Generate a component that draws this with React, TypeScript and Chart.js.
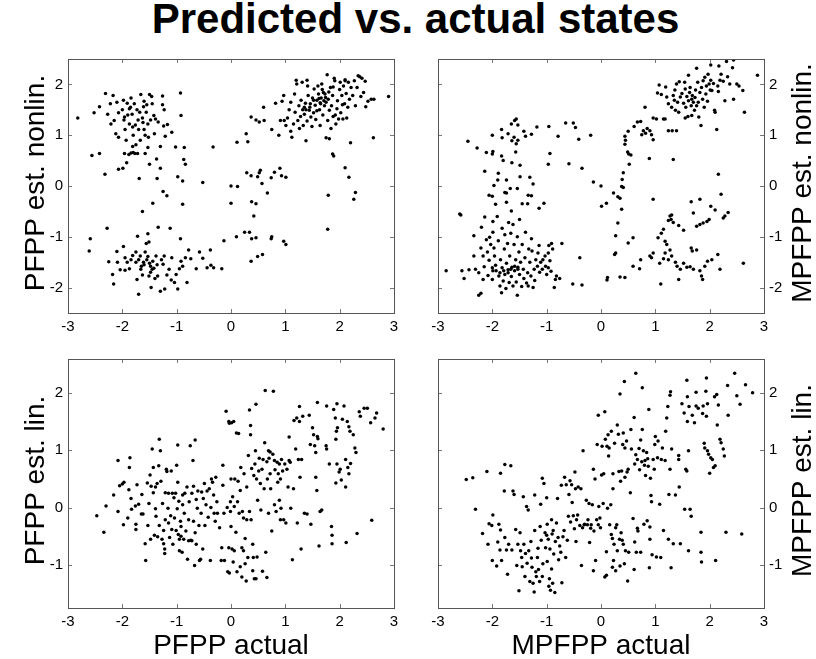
import React, { useEffect, useRef } from 'react';
import { Chart, registerables } from 'chart.js';

Chart.register(...registerables);

const FONT = '"Liberation Sans", Arial, Helvetica, sans-serif';

const chartTitle = 'Predicted vs. actual states';
const xTicks = [-3, -2, -1, 0, 1, 2, 3];
const yTicksTop = [-2, -1, 0, 1, 2];
const yTicksBottom = [-1, 0, 1, 2];
const xRange = [-3, 3];
const yRangeTop = [-2.5, 2.5];
const yRangeBottom = [-1.75, 2.59];

const labelTL = 'PFPP est. nonlin.';
const labelTR = 'MPFPP est. nonlin.';
const labelBL = 'PFPP est. lin.';
const labelBR = 'MPFPP est. lin.';
const xLabelBL = 'PFPP actual';
const xLabelBR = 'MPFPP actual';

// PFPP actual vs PFPP estimated (nonlinear)
const pfppNonlin: [number, number][] = [
  [-2.82,1.34],[-2.52,1.44],[-2.42,1.56],[-2.31,1.82],[-2.56,0.60],[-2.42,0.64],[-2.32,0.23],[-2.27,1.41],[-2.22,1.62],[-2.17,1.78],
  [-2.21,1.22],[-2.15,1.29],[-2.10,1.65],[-2.12,1.03],[-2.07,1.44],[-2.07,0.96],[-2.07,0.33],[-1.99,0.35],[-1.98,1.69],[-1.96,1.36],
  [-1.95,1.11],[-1.91,1.63],[-1.93,0.90],[-1.96,0.64],[-1.92,0.46],[-1.87,1.52],[-1.87,1.22],[-1.82,1.41],[-1.81,1.16],[-1.84,1.73],
  [-1.78,1.62],[-1.80,1.00],[-1.81,0.78],[-1.84,0.65],[-1.77,0.64],[-1.72,0.64],[-1.75,0.81],[-1.71,1.30],[-1.73,1.50],[-1.70,1.11],
  [-1.67,0.90],[-1.69,0.15],[-1.66,1.80],[-1.63,1.34],[-1.61,1.56],[-1.60,1.67],[-1.60,1.11],[-1.56,1.45],[-1.58,0.64],[-1.53,1.22],
  [-1.50,1.80],[-1.52,0.96],[-1.50,0.43],[-1.53,0.76],[-1.46,1.76],[-1.45,1.62],[-1.42,1.39],[-1.41,1.03],[-1.39,1.32],[-1.37,0.53],
  [-1.36,0.15],[-1.34,1.26],[-1.30,0.78],[-1.30,0.35],[-1.26,1.77],[-1.26,1.60],[-1.23,1.50],[-1.24,1.18],[-1.21,0.98],[-1.25,-0.11],
  [-1.18,-0.19],[-1.17,1.21],[-1.09,1.06],[-1.02,0.77],[-0.93,1.83],[-0.92,1.39],[-0.98,0.18],[-0.89,0.10],[-0.89,-0.36],[-0.86,0.76],
  [-0.87,0.52],[-0.84,0.43],[-1.44,-0.34],[-1.63,-0.50],[-0.52,0.07],[-0.33,0.77],[-1.97,1.30],[-1.90,1.40],[-1.76,1.20],[-1.62,1.25],
  [-1.68,1.45],[-1.85,1.55],[-1.55,1.60],[-2.00,1.50],[-1.48,1.30],[-1.58,1.00],[-1.88,0.62],[-1.80,0.66],
  [-2.59,-1.04],[-2.61,-1.28],[-2.28,-0.83],[-2.25,-1.49],[-2.18,-1.74],[-2.16,-1.93],[-2.10,-1.29],[-2.09,-1.50],[-2.04,-1.65],[-1.98,-1.19],
  [-1.95,-1.41],[-1.95,-1.66],[-1.91,-1.50],[-1.87,-1.63],[-1.84,-1.45],[-1.81,-1.37],[-1.75,-1.30],[-1.75,-1.50],[-1.73,-1.84],[-1.72,-0.99],
  [-1.70,-2.13],[-1.67,-1.38],[-1.66,-1.64],[-1.63,-1.75],[-1.61,-1.50],[-1.58,-1.30],[-1.56,-1.13],[-1.53,-0.94],[-1.53,-1.39],[-1.51,-1.10],
  [-1.51,-1.77],[-1.48,-1.58],[-1.47,-2.00],[-1.45,-1.64],[-1.44,-1.48],[-1.42,-1.62],[-1.40,-1.82],[-1.38,-1.38],[-1.35,-1.77],[-1.34,-0.81],
  [-1.30,-2.07],[-1.28,-1.45],[-1.25,-1.54],[-1.23,-1.38],[-1.22,-2.03],[-1.18,-1.75],[-1.14,-1.64],[-1.12,-0.83],[-1.10,-1.85],[-1.09,-1.41],
  [-1.04,-1.90],[-1.01,-1.74],[-0.98,-2.03],[-0.95,-1.63],[-0.93,-1.04],[-0.92,-1.48],[-0.89,-1.58],[-0.84,-1.41],[-0.81,-1.90],[-0.78,-1.26],
  [-0.74,-1.43],[-0.64,-1.63],[-0.58,-1.30],[-0.52,-1.42],[-0.44,-1.61],[-0.38,-1.26],[-0.37,-1.56],[-0.32,-1.61],[-0.17,-1.63],[-1.60,-1.55],
  [-1.55,-1.45],[-1.70,-1.45],[-1.48,-1.70],[-1.36,-1.55],[-1.65,-1.58],[-1.50,-1.52],
  [-0.13,-1.08],[0.00,0.00],[0.00,-0.34],[0.12,-0.01],[0.10,-1.00],[0.11,0.86],[0.25,-0.91],[0.34,-0.91],[0.28,1.03],[0.31,0.87],
  [0.29,0.26],[0.37,0.20],[0.38,-0.31],[0.46,-0.35],[0.42,-0.59],[0.38,-1.04],[0.46,-1.02],[0.37,-1.48],[0.49,-1.39],[0.58,-1.35],
  [0.49,0.18],[0.52,0.26],[0.54,0.31],[0.57,0.05],[0.67,-0.14],[0.74,-1.04],[0.75,-1.00],[0.74,0.16],[0.80,0.27],[0.90,0.35],
  [0.93,0.20],[1.01,0.17],[0.97,-1.09],[1.01,-1.15],[0.37,1.36],[0.46,1.30],[0.52,1.26],[0.61,1.29],[0.60,1.55],[0.75,1.11],
  [0.82,1.63],[0.88,1.00],[0.91,1.29],
  [0.94,1.67],[0.97,1.78],[0.98,1.29],[1.01,1.19],[1.04,1.34],[1.07,1.50],[1.10,1.65],[1.10,1.08],[1.12,0.96],[1.15,1.22],
  [1.17,1.81],[1.18,1.45],[1.20,2.08],[1.21,2.01],[1.23,1.29],[1.25,1.58],[1.26,1.13],[1.28,1.37],[1.29,1.69],[1.31,2.04],
  [1.32,1.50],[1.33,1.19],[1.35,1.41],[1.37,1.63],[1.38,0.89],[1.40,2.08],[1.40,1.28],[1.41,1.97],[1.42,1.78],[1.44,1.49],
  [1.46,1.62],[1.47,1.36],[1.49,1.17],[1.50,1.73],[1.52,1.44],[1.53,1.91],[1.55,1.59],[1.56,1.31],[1.58,1.69],[1.60,1.97],
  [1.61,1.81],[1.63,1.50],[1.64,1.19],[1.64,1.64],[1.66,1.73],[1.67,2.01],[1.69,1.40],[1.70,1.84],[1.72,1.58],[1.73,1.81],
  [1.75,1.65],[1.75,0.95],[1.77,2.19],[1.78,1.29],[1.79,1.71],[1.81,1.49],[1.83,1.94],[1.84,1.13],[1.85,1.58],[1.87,1.78],
  [1.88,1.37],[1.87,0.63],[1.89,0.59],[1.90,2.12],[1.91,2.07],[1.93,1.22],[1.95,1.52],[1.96,1.68],[1.98,1.32],[2.00,1.90],
  [2.01,2.04],[2.02,1.44],[2.04,1.78],[2.06,1.32],[2.07,1.97],[2.09,1.62],[2.10,2.07],[2.12,1.82],[2.13,1.34],[2.15,1.55],
  [2.16,2.04],[2.18,1.71],[2.20,0.85],[2.10,0.36],[2.17,0.17],[2.21,1.94],[2.24,1.78],[2.27,2.07],[2.29,1.58],[2.32,1.94],
  [2.34,2.17],[2.37,2.15],[2.39,1.76],[2.41,2.12],[2.44,1.84],[2.47,2.06],[2.48,1.56],[2.52,1.67],[2.58,1.71],[2.62,0.95],
  [2.63,1.71],[2.90,1.76],[1.81,0.93],[1.79,-0.18],[1.78,-0.85],[2.26,-0.26],[2.29,-0.13],[2.10,2.09],[1.45,1.55],[1.62,1.72],
  [1.68,1.90],[1.74,1.74],[1.80,1.85],[1.58,1.48],[1.35,1.55],[1.38,1.50],[1.52,1.69],[1.92,1.40],[1.88,1.95],[2.05,1.60],
  [1.65,1.62],[1.71,1.68]
];

// MPFPP actual vs MPFPP estimated (nonlinear)
const mpfppNonlin: [number, number][] = [
  [2.88,2.18],[2.44,2.48],[2.31,2.45],[2.42,2.33],[2.17,2.36],[2.02,2.38],[1.76,2.32],[1.61,2.18],[1.44,2.05],[1.07,1.99],
  [1.04,1.83],[1.11,1.80],[1.19,1.95],[1.21,1.75],[1.24,1.62],[1.30,1.55],[1.33,1.78],[1.35,1.69],[1.36,1.89],[1.39,2.01],
  [1.41,1.65],[1.43,1.45],[1.46,1.75],[1.49,1.82],[1.52,1.63],[1.54,2.04],[1.55,1.91],[1.56,1.55],[1.58,1.76],[1.60,1.37],
  [1.61,1.68],[1.63,1.84],[1.64,1.94],[1.66,1.58],[1.67,1.71],[1.68,1.78],[1.70,1.65],[1.72,1.49],[1.73,1.74],[1.74,1.89],
  [1.76,1.58],[1.78,2.04],[1.79,1.65],[1.80,1.36],[1.82,1.84],[1.84,1.19],[1.85,1.94],[1.87,1.71],[1.88,2.07],[1.90,1.55],
  [1.91,2.14],[1.93,1.81],[1.94,1.97],[1.96,1.67],[1.97,2.20],[1.99,2.01],[2.01,1.89],[2.02,2.08],[2.04,1.88],[2.07,2.02],
  [2.09,1.49],[2.10,1.45],[2.13,1.11],[2.15,1.97],[2.16,1.86],[2.19,2.08],[2.21,2.20],[2.25,2.06],[2.28,1.68],[2.33,2.15],
  [2.37,2.01],[2.44,1.71],[2.50,2.01],[2.54,1.97],[2.61,1.88],[2.64,1.45],[0.96,1.34],[1.02,1.32],[1.15,1.32],[1.18,1.32],
  [1.24,1.09],[1.31,1.09],[1.39,1.09],[1.33,0.52],[1.55,1.34],[1.67,1.39],[1.37,1.49],
  [0.81,1.55],[0.73,1.27],[0.67,1.26],[0.61,1.17],[0.50,1.08],[0.44,0.98],[0.45,0.90],[0.44,0.82],[0.49,0.67],[0.51,0.63],
  [0.55,0.61],[0.52,0.43],[0.41,0.26],[0.39,0.13],[0.38,-0.01],[0.41,-0.03],[0.31,-0.21],[0.35,-0.24],[0.38,-0.46],[0.31,-0.73],
  [0.27,-0.98],[0.27,-1.32],[0.25,-1.35],[0.50,-1.12],[0.59,-1.02],[0.59,-1.58],[0.35,-1.79],[0.44,-1.80],[0.12,-1.80],[0.11,-1.85],
  [0.00,0.00],[-0.14,0.08],[0.01,-0.40],[0.10,-0.34],[0.23,-0.14],[0.82,1.04],[0.85,1.13],[0.90,1.09],[0.93,1.01],[0.96,0.91],
  [0.89,0.54],[0.75,1.01],[0.78,1.09],[0.96,-0.26],
  [2.16,0.23],[2.21,-0.16],[2.02,-0.40],[2.10,-0.47],[2.34,-0.52],[2.28,-0.59],[2.25,-0.63],[1.99,-0.66],[1.95,-0.70],[1.88,-0.73],
  [1.82,-0.76],[1.76,-0.79],[1.66,-0.31],[1.82,-0.26],[1.70,-0.53],[1.52,-0.87],[1.43,-0.78],[1.33,-0.72],[1.27,-0.59],[1.29,-0.66],
  [1.30,-0.57],[1.15,-0.85],[1.11,-0.93],[1.18,-1.09],[1.21,-1.15],[1.27,-1.26],[1.30,-1.38],[1.24,-1.45],[1.37,-1.50],[1.40,-1.58],
  [1.46,-1.64],[1.52,-1.52],[1.58,-1.60],[1.64,-1.59],[1.66,-1.22],[1.68,-1.28],[1.70,-1.64],[1.76,-1.26],[1.82,-1.67],[1.85,-1.77],
  [1.87,-1.84],[1.91,-1.58],[1.96,-1.48],[2.04,-1.45],[2.15,-1.35],[2.19,-1.64],[2.62,-1.52],[1.43,-1.84],[1.10,-1.93],[1.05,-1.02],
  [0.96,-1.32],[0.93,-1.41],[0.90,-1.38],[0.73,-1.45],[0.71,-1.63],[1.08,-1.52],[1.15,-1.43],[1.18,-1.32],[1.24,-0.68],
  [-2.45,0.88],[-2.28,0.75],[-2.11,0.66],[-1.99,0.68],[-2.00,1.00],[-2.14,0.29],[-1.83,0.59],[-1.80,0.50],[-1.83,1.11],[-1.82,0.95],
  [-1.89,0.25],[-1.90,0.12],[-1.74,0.12],[-1.97,0.01],[-2.06,-0.18],[-2.00,-0.20],[-1.94,-0.36],[-1.77,-0.13],[-1.74,-0.14],[-1.74,-0.32],
  [-1.65,-0.49],[-1.67,-0.05],[-1.71,1.03],[-1.65,1.22],[-1.64,0.89],[-1.60,0.96],[-1.59,1.29],[-1.56,1.32],[-1.53,1.20],[-1.56,0.83],
  [-1.57,0.67],[-1.53,0.90],[-1.64,0.46],[-1.49,0.41],[-1.54,-0.05],[-1.49,0.18],[-1.42,1.08],[-1.39,0.98],[-1.28,1.02],[-1.31,0.17],
  [-1.25,0.04],[-1.34,-0.18],[-1.28,-0.19],[-1.45,-0.35],[-1.35,-0.35],[-1.18,1.16],[-1.05,-0.34],[-1.14,-0.44],[-0.96,1.17],[-0.94,0.64],
  [-0.97,0.43],[-0.79,0.98],[-0.65,1.24],[-0.51,1.24],[-0.47,1.15],[-0.59,0.44],[-0.41,0.92],[-0.35,0.35],[-0.19,1.00],[-2.00,0.63],
  [-2.85,-1.67],[-2.60,-0.55],[-2.58,-0.57],[-2.56,-1.67],[-2.52,-1.82],[-2.43,-1.65],[-2.34,-0.98],[-2.34,-1.38],[-2.31,-1.64],[-2.25,-1.71],
  [-2.25,-2.15],[-2.21,-2.11],[-2.21,-1.22],[-2.20,-0.81],[-2.17,-1.38],[-2.15,-1.59],[-2.17,-1.84],[-2.14,-0.61],[-2.11,-1.06],[-2.09,-1.30],
  [-2.08,-1.76],[-2.06,-1.46],[-2.05,-1.01],[-2.03,-1.15],[-2.00,-1.61],[-2.00,-1.84],[-1.99,-0.91],[-1.99,-0.70],[-1.97,-1.22],[-1.96,-1.38],
  [-1.94,-1.56],[-1.93,-1.67],[-1.91,-0.60],[-1.89,-1.08],[-1.88,-1.77],[-1.86,-1.97],[-1.85,-1.45],[-1.83,-2.10],[-1.82,-0.83],[-1.82,-1.61],
  [-1.80,-1.87],[-1.78,-1.24],[-1.77,-0.96],[-1.77,-1.74],[-1.75,-2.02],[-1.74,-1.52],[-1.72,-1.13],[-1.71,-1.65],[-1.70,-0.72],[-1.69,-1.90],
  [-1.68,-1.38],[-1.66,-0.93],[-1.65,-1.78],[-1.64,-1.60],[-1.62,-0.76],[-1.62,-1.97],[-1.60,-1.15],[-1.59,-1.67],[-1.57,-1.45],[-1.56,-1.89],
  [-1.54,-2.15],[-1.54,-1.00],[-1.53,-1.60],[-1.51,-1.30],[-1.50,-1.74],[-1.50,-0.66],[-1.48,-1.50],[-1.46,-1.98],[-1.45,-1.15],[-1.43,-1.64],
  [-1.42,-1.82],[-1.40,-1.41],[-1.39,-0.91],[-1.37,-1.91],[-1.35,-1.71],[-1.34,-1.97],[-1.33,-1.24],[-1.31,-1.50],[-1.29,-1.77],[-1.28,-1.04],
  [-1.27,-1.28],[-1.25,-2.00],[-1.23,-1.64],[-1.22,-1.86],[-1.20,-1.45],[-1.17,-1.58],[-1.16,-1.32],[-1.14,-1.17],[-1.13,-1.70],[-1.11,-1.50],
  [-1.08,-1.64],[-1.07,-1.45],[-1.03,-1.38],[-1.02,-1.58],[-1.00,-1.74],[-0.97,-1.32],[-0.96,-1.17],[-0.94,-1.47],[-0.92,-1.68],[-0.91,-1.13],
  [-0.89,-1.24],[-0.86,-2.00],[-0.84,-1.84],[-0.82,-1.77],[-0.76,-1.82],[-0.72,-1.13],[-0.39,-1.41],[-0.52,-1.93],[-0.35,-1.95],[-0.97,-1.61],
  [-1.99,-1.67],[-1.79,-1.67],[-1.66,-1.64],[-1.53,-1.64],[-1.59,-1.58],[-1.71,-1.71],[-1.86,-1.71]
];

// PFPP actual vs PFPP estimated (linear)
const pfppLin: [number, number][] = [
  [-2.47,-0.14],[-2.34,-0.43],[-2.30,0.03],[-2.16,0.22],[-2.08,0.82],[-2.08,-0.07],[-2.05,0.38],[-2.00,0.41],[-1.97,0.44],[-1.98,-0.30],
  [-1.90,-0.18],[-1.88,0.31],[-1.86,0.87],[-1.87,0.70],[-1.84,0.16],[-1.83,-0.03],[-1.76,0.03],[-1.75,-0.29],[-1.75,-0.38],[-1.73,0.40],
  [-1.70,0.06],[-1.65,-0.11],[-1.62,-0.11],[-1.64,0.23],[-1.58,-0.63],[-1.57,-0.92],[-1.53,-0.31],[-1.54,0.43],[-1.51,0.07],[-1.49,0.57],
  [-1.48,-0.55],[-1.47,0.37],[-1.45,1.02],[-1.43,0.70],[-1.43,0.26],[-1.41,-0.48],[-1.39,0.36],[-1.39,-0.02],[-1.38,-0.15],[-1.36,0.42],
  [-1.35,-0.51],[-1.33,0.73],[-1.32,1.19],[-1.32,-0.31],[-1.30,0.99],[-1.29,0.46],[-1.27,-0.55],[-1.26,0.07],[-1.24,-0.40],[-1.24,-0.63],
  [-1.22,-0.72],[-1.22,-0.80],[-1.21,0.26],[-1.21,-0.21],[-1.19,0.67],[-1.18,0.63],[-1.16,-0.01],[-1.15,0.25],[-1.15,-0.27],[-1.13,-0.52],
  [-1.11,-0.14],[-1.10,0.64],[-1.09,-0.38],[-1.08,0.25],[-1.07,-0.64],[-1.05,0.17],[-1.04,-0.18],[-1.02,0.25],[-1.01,-0.40],[-1.00,0.74],
  [-0.99,-0.02],[-0.98,1.09],[-0.98,0.44],[-0.97,-0.47],[-0.96,0.11],[-0.95,-0.55],[-0.95,-0.75],[-0.93,-0.24],[-0.92,-0.33],[-0.92,-0.50],
  [-0.90,-0.78],[-0.89,0.22],[-0.89,0.05],[-0.87,-0.55],[-0.86,-0.10],[-0.85,0.25],[-0.83,-0.41],[-0.81,0.36],[-0.80,-0.90],[-0.78,-0.58],
  [-0.78,-0.21],[-0.77,0.10],[-0.75,1.08],[-0.74,-0.57],[-0.72,0.25],[-0.72,-0.58],[-0.70,0.82],[-0.69,-0.24],[-0.69,0.37],[-0.67,-1.01],
  [-0.66,1.18],[-0.66,-0.44],[-0.64,-0.64],[-0.64,0.14],[-0.62,-0.01],[-0.61,0.29],[-0.59,-0.31],[-0.58,-0.92],[-0.56,-0.90],[-0.55,-0.10],
  [-0.54,0.27],[-0.52,-0.72],[-0.51,0.16],[-0.49,0.42],[-0.48,-0.31],[-0.46,0.05],[-0.44,0.29],[-0.42,-0.17],[-0.40,0.33],[-0.38,-0.92],
  [-0.37,0.00],[-0.36,0.50],[-0.34,0.44],[-0.32,0.22],[-0.31,-0.10],[-0.29,-0.24],[-0.28,0.53],[-0.26,0.10],[-0.25,-0.10],[-0.21,-0.35],
  [-0.18,-0.92],[-0.17,-0.70],[-0.15,0.74],[-0.15,0.39],[-0.13,-0.10],[-0.12,-0.92],[-0.09,1.68],[-0.07,0.00],[-0.06,-1.12],[-0.04,1.50],
  [-0.04,-0.70],[-0.03,1.47],[-0.03,-1.14],[-0.01,0.10],[-0.01,-0.07],[0.00,0.50],[0.00,-0.33],[0.01,1.48],[0.02,-0.72],[0.03,0.19],
  [0.04,-0.95],[0.05,1.50],[0.06,0.02],[0.06,-0.75],[0.07,0.50],[0.09,-0.43],[0.10,1.30],[0.11,-1.12],[0.12,0.10],[0.13,0.46],
  [0.14,1.29],[0.15,-0.10],[0.17,-1.03],[0.17,0.30],[0.18,0.70],[0.20,-0.70],[0.20,-1.21],[0.21,-0.07],[0.23,-0.75],[0.23,-0.18],
  [0.24,0.59],[0.26,-0.98],[0.26,-0.54],[0.28,-1.28],[0.29,-0.21],[0.29,0.36],[0.31,-0.87],[0.32,0.91],[0.34,1.70],[0.34,-0.07],
  [0.36,1.43],[0.36,1.27],[0.37,-0.21],[0.38,0.68],[0.40,-0.64],[0.40,-1.10],[0.41,-0.87],[0.42,0.56],[0.43,-1.24],[0.44,0.76],
  [0.45,0.99],[0.46,-1.24],[0.46,1.80],[0.47,0.50],[0.48,-0.86],[0.49,0.13],[0.51,0.64],[0.52,0.86],[0.54,0.42],[0.55,-0.04],
  [0.57,0.67],[0.58,-1.11],[0.59,0.84],[0.61,0.33],[0.62,1.13],[0.63,2.04],[0.64,-0.78],[0.66,0.80],[0.66,-1.22],[0.67,0.50],
  [0.69,0.99],[0.69,-0.10],[0.70,0.86],[0.72,0.97],[0.72,0.59],[0.73,0.33],[0.75,-0.41],[0.77,0.93],[0.78,2.03],[0.80,0.82],
  [0.80,0.05],[0.81,0.66],[0.83,-0.07],[0.85,0.79],[0.86,0.44],[0.87,0.59],[0.89,0.13],[0.89,0.76],[0.91,0.50],[0.91,-0.21],
  [0.92,-0.01],[0.93,0.84],[0.95,0.64],[0.97,-0.21],[0.99,0.76],[1.01,-0.27],[1.03,0.67],[1.05,0.36],[1.07,1.23],[1.07,0.82],
  [1.09,0.79],[1.10,-0.01],[1.13,-0.91],[1.16,1.52],[1.15,0.33],[1.19,1.02],[1.21,1.56],[1.22,-0.27],[1.24,0.84],[1.26,1.76],
  [1.26,1.50],[1.27,0.53],[1.29,-0.72],[1.30,0.84],[1.32,1.59],[1.35,-0.10],[1.40,-0.11],[1.44,1.61],[1.46,1.10],[1.47,-0.29],
  [1.50,1.39],[1.52,1.27],[1.54,1.08],[1.56,0.96],[1.56,0.53],[1.58,0.30],[1.59,1.83],[1.59,1.24],[1.60,1.20],[1.62,-0.67],
  [1.64,-0.07],[1.67,-0.04],[1.76,1.77],[1.75,1.08],[1.76,1.02],[1.81,0.76],[1.85,-0.33],[1.86,-0.48],[1.86,-0.63],[1.89,1.71],
  [1.92,1.56],[1.93,1.19],[1.94,1.33],[1.95,1.81],[1.96,1.39],[1.95,0.76],[1.93,0.43],[1.99,0.62],[2.01,0.67],[2.03,0.48],
  [2.05,1.54],[2.08,1.77],[2.11,0.84],[2.11,0.36],[2.12,-0.61],[2.14,1.50],[2.15,0.70],[2.17,1.41],[2.17,0.59],[2.19,1.33],
  [2.20,0.77],[2.25,1.27],[2.28,1.04],[2.30,0.96],[2.32,-0.45],[2.36,1.67],[2.38,1.59],[2.45,1.73],[2.51,1.73],[2.57,1.48],
  [2.59,-0.22],[2.65,1.56],[2.68,1.65],[2.80,1.37]
];

// MPFPP actual vs MPFPP estimated (linear)
const mpfppLin: [number, number][] = [
  [-2.48,0.49],[-2.36,0.52],[-2.31,-0.03],[-2.18,-0.45],[-2.10,0.63],[-2.08,-0.64],[-2.06,-0.28],[-2.01,-0.31],[-1.99,-0.13],[-2.00,-0.92],
  [-1.92,-1.02],[-1.90,-0.60],[-1.88,-0.29],[-1.86,-0.74],[-1.85,0.60],[-1.85,-0.39],[-1.83,-0.92],[-1.78,0.29],[-1.77,-0.52],[-1.77,0.75],
  [-1.74,-0.74],[-1.72,-1.16],[-1.70,-0.64],[-1.66,0.73],[-1.64,-0.74],[-1.62,0.29],[-1.60,0.23],[-1.57,-0.38],[-1.55,-1.01],[-1.53,-0.64],
  [-1.51,-1.45],[-1.49,-0.44],[-1.48,-0.75],[-1.46,-0.87],[-1.45,-1.03],[-1.43,0.19],[-1.42,-0.64],[-1.40,-1.20],[-1.39,-0.80],[-1.37,0.02],
  [-1.36,-0.97],[-1.34,-0.04],[-1.33,-0.75],[-1.31,-1.29],[-1.29,-0.59],[-1.28,-0.88],[-1.27,-1.04],[-1.25,-1.32],[-1.23,-1.47],[-1.22,0.22],
  [-1.22,-0.40],[-1.20,-1.12],[-1.19,-1.20],[-1.17,-0.87],[-1.16,-0.71],[-1.15,-1.08],[-1.13,-1.29],[-1.12,-0.33],[-1.11,0.06],[-1.10,-0.57],
  [-1.08,0.51],[-1.08,-1.20],[-1.07,-0.98],[-1.05,0.42],[-1.03,-0.44],[-1.02,-0.70],[-1.00,0.17],[-1.00,-0.48],[-0.99,-0.29],[-0.99,-0.94],
  [-0.97,-0.55],[-0.96,-1.37],[-0.95,-1.24],[-0.94,-0.72],[-0.93,-1.44],[-0.91,-0.21],[-0.91,-1.07],[-0.90,-0.46],[-0.89,-1.32],[-0.88,-0.40],
  [-0.87,-0.81],[-0.85,-1.48],[-0.84,-0.59],[-0.82,-0.27],[-0.80,0.16],[-0.79,-0.52],[-0.78,-0.91],[-0.76,-0.67],[-0.74,-0.78],[-0.73,0.39],
  [-0.72,-1.31],[-0.70,-0.51],[-0.68,-0.40],[-0.67,0.53],[-0.65,-0.87],[-0.64,0.40],[-0.62,-0.57],[-0.60,-0.15],[-0.59,0.23],[-0.57,0.47],
  [-0.56,-0.25],[-0.54,0.40],[-0.53,0.09],[-0.51,-0.14],[-0.49,-0.37],[-0.48,0.62],[-0.47,0.33],[-0.46,-0.59],[-0.45,-0.21],[-0.43,-0.13],
  [-0.42,0.36],[-0.39,-0.31],[-0.37,0.33],[-0.36,-1.01],[-0.34,-0.35],[-0.33,0.99],[-0.31,-0.30],[-0.30,-0.29],[-0.27,0.13],[-0.25,-0.30],
  [-0.24,-0.21],[-0.22,0.07],[-0.21,-0.61],[-0.19,-0.36],[-0.18,-0.30],[-0.16,0.05],[-0.14,0.67],[-0.14,-1.10],[-0.13,-0.41],[-0.11,0.50],
  [-0.10,-0.92],[-0.08,-0.21],[-0.07,1.10],[-0.05,-0.30],[-0.05,1.61],[-0.04,0.02],[-0.02,-0.18],[-0.01,-0.35],[0.01,0.57],[0.02,1.07],
  [0.04,0.07],[0.05,0.59],[0.07,-1.21],[0.07,1.67],[0.08,1.19],[0.10,-1.18],[0.10,-0.77],[0.11,1.07],[0.12,-0.01],[0.13,1.27],
  [0.14,0.90],[0.15,1.04],[0.16,-0.30],[0.18,0.05],[0.19,1.33],[0.19,-0.47],[0.21,-1.04],[0.21,-0.54],[0.22,0.33],[0.22,0.59],
  [0.23,-0.92],[0.24,-0.64],[0.25,1.12],[0.27,-0.35],[0.27,-1.10],[0.29,-0.30],[0.30,1.44],[0.30,-0.75],[0.32,1.28],[0.33,0.63],
  [0.34,-0.55],[0.35,-1.02],[0.35,1.98],[0.36,0.46],[0.37,-0.44],[0.38,0.64],[0.39,-0.57],[0.40,1.10],[0.41,-0.64],[0.41,1.30],
  [0.43,2.20],[0.43,-0.98],[0.44,0.53],[0.44,1.04],[0.45,-0.75],[0.47,1.16],[0.48,0.62],[0.49,-1.28],[0.50,0.67],[0.51,-0.78],
  [0.54,0.26],[0.55,1.36],[0.56,1.02],[0.59,-0.19],[0.61,1.57],[0.61,-1.08],[0.62,-0.60],[0.62,0.76],[0.64,2.34],[0.64,0.92],
  [0.65,-0.78],[0.67,0.84],[0.67,-0.36],[0.68,-0.41],[0.70,1.03],[0.71,0.66],[0.73,1.18],[0.73,-0.78],[0.75,0.80],[0.76,2.09],
  [0.76,1.36],[0.78,0.99],[0.79,-0.29],[0.80,0.74],[0.81,0.82],[0.82,0.56],[0.84,0.96],[0.85,-0.23],[0.86,0.85],[0.87,0.72],
  [0.88,1.71],[0.89,-1.05],[0.90,-0.34],[0.90,-0.55],[0.91,0.51],[0.92,0.21],[0.93,0.10],[0.94,-0.82],[0.96,0.84],[0.98,0.67],
  [0.99,1.10],[1.00,1.24],[1.02,-0.86],[1.04,0.87],[1.05,1.16],[1.08,0.06],[1.10,-0.87],[1.11,0.84],[1.13,1.04],[1.15,-0.40],
  [1.18,0.82],[1.19,1.33],[1.21,1.56],[1.23,1.76],[1.24,-0.55],[1.25,0.23],[1.27,0.67],[1.27,1.96],[1.28,2.02],[1.29,-1.05],
  [1.30,1.02],[1.33,-0.63],[1.37,0.22],[1.43,0.91],[1.43,0.84],[1.44,0.36],[1.46,-0.63],[1.49,1.81],[1.53,1.65],[1.54,-0.03],
  [1.56,0.67],[1.58,0.64],[1.58,2.22],[1.59,1.93],[1.59,1.50],[1.61,0.99],[1.61,-0.75],[1.62,1.76],[1.64,-0.03],[1.66,-0.15],
  [1.68,1.61],[1.72,1.48],[1.75,2.01],[1.75,1.77],[1.79,1.73],[1.84,-0.43],[1.84,-0.78],[1.85,-0.95],[1.87,1.64],[1.88,1.77],
  [1.90,1.12],[1.91,1.04],[1.93,2.03],[1.94,2.26],[1.94,1.59],[1.96,1.81],[1.96,0.99],[1.98,0.93],[2.00,0.60],[2.02,0.87],
  [2.05,0.84],[2.07,0.70],[2.09,1.93],[2.10,0.73],[2.11,-0.92],[2.13,1.97],[2.14,1.44],[2.16,1.79],[2.19,1.19],[2.21,1.13],
  [2.25,1.02],[2.27,0.90],[2.30,-0.43],[2.33,2.13],[2.34,1.61],[2.46,2.34],[2.50,1.95],[2.56,1.80],[2.59,-0.46],[2.66,2.14],
  [2.79,2.00]
];

type Rect = { left: number; top: number; width: number; height: number };
type Area = { l: number; t: number; r: number; b: number };

interface PanelSpec {
  points: [number, number][];
  yRange: number[];
  yTicks: number[];
  yPos: 'left' | 'right';
  yTitle: string;
  xTitle: string | null;
  canvas: Rect;
  area: Area;
}

const Y_AXIS_W = 36;
const X_AXIS_H = 30;

const decoPlugin = {
  id: 'deco',
  afterDraw(chart: any, _args: any, opts: any) {
    const { ctx, chartArea: a, scales } = chart;
    const xs = scales.x;
    const ys = scales.y;
    ctx.save();
    // inward tick marks on all four sides
    ctx.strokeStyle = '#777';
    ctx.lineWidth = 1;
    ctx.beginPath();
    xs.ticks.forEach((t: any) => {
      const px = Math.round(xs.getPixelForValue(t.value)) + 0.5;
      ctx.moveTo(px, a.bottom);
      ctx.lineTo(px, a.bottom - 4);
      ctx.moveTo(px, a.top);
      ctx.lineTo(px, a.top + 4);
    });
    ys.ticks.forEach((t: any) => {
      const py = Math.round(ys.getPixelForValue(t.value)) + 0.5;
      ctx.moveTo(a.left, py);
      ctx.lineTo(a.left + 4, py);
      ctx.moveTo(a.right, py);
      ctx.lineTo(a.right - 4, py);
    });
    ctx.stroke();
    // box
    ctx.strokeStyle = '#555';
    ctx.strokeRect(a.left + 0.5, a.top + 0.5, a.right - a.left, a.bottom - a.top);
    // axis titles
    ctx.fillStyle = '#000';
    ctx.font = `28px ${FONT}`;
    ctx.textAlign = 'center';
    ctx.textBaseline = 'alphabetic';
    const cy = (a.top + a.bottom) / 2 - 3;
    if (opts && opts.yTitle) {
      const bx = opts.yPos === 'left' ? a.left - 24 : a.right + 47;
      ctx.save();
      ctx.translate(bx, cy);
      ctx.rotate(-Math.PI / 2);
      ctx.fillText(opts.yTitle, 0, 0);
      ctx.restore();
    }
    if (opts && opts.xTitle) {
      ctx.fillText(opts.xTitle, (a.left + a.right) / 2, a.bottom + 46);
    }
    ctx.restore();
  },
};

const panels: PanelSpec[] = [
  {
    points: pfppNonlin, yRange: yRangeTop, yTicks: yTicksTop, yPos: 'left', yTitle: labelTL, xTitle: null,
    canvas: { left: 0, top: 40, width: 410, height: 305 }, area: { l: 68, t: 59, r: 394, b: 313 },
  },
  {
    points: mpfppNonlin, yRange: yRangeTop, yTicks: yTicksTop, yPos: 'right', yTitle: labelTR, xTitle: null,
    canvas: { left: 410, top: 40, width: 406, height: 305 }, area: { l: 438, t: 59, r: 764, b: 313 },
  },
  {
    points: pfppLin, yRange: yRangeBottom, yTicks: yTicksBottom, yPos: 'left', yTitle: labelBL, xTitle: xLabelBL,
    canvas: { left: 0, top: 345, width: 410, height: 314 }, area: { l: 68, t: 355, r: 394, b: 608 },
  },
  {
    points: mpfppLin, yRange: yRangeBottom, yTicks: yTicksBottom, yPos: 'right', yTitle: labelBR, xTitle: xLabelBR,
    canvas: { left: 410, top: 345, width: 406, height: 314 }, area: { l: 438, t: 355, r: 764, b: 608 },
  },
];

function Panel({ spec }: { spec: PanelSpec }) {
  const ref = useRef<HTMLCanvasElement | null>(null);
  useEffect(() => {
    if (!ref.current) return;
    const { canvas: c, area } = spec;
    const padLeft = area.l - c.left - (spec.yPos === 'left' ? Y_AXIS_W : 0);
    const padRight = c.left + c.width - area.r - (spec.yPos === 'right' ? Y_AXIS_W : 0);
    const padTop = area.t - c.top;
    const padBottom = c.top + c.height - area.b - X_AXIS_H;
    const tickFont = { size: 15, family: FONT };
    const chart = new Chart(ref.current, {
      type: 'scatter',
      data: {
        datasets: [
          {
            data: spec.points.map(([x, y]) => ({ x, y })),
            pointRadius: 1.75,
            pointHoverRadius: 1.75,
            pointBackgroundColor: '#000',
            pointBorderWidth: 0,
            pointStyle: 'circle',
            showLine: false,
          },
        ],
      },
      options: {
        responsive: false,
        animation: false,
        devicePixelRatio: 1,
        events: [],
        layout: { padding: { left: padLeft, right: padRight, top: padTop, bottom: padBottom } },
        plugins: {
          legend: { display: false },
          tooltip: { enabled: false },
          title: { display: false },
          deco: { yTitle: spec.yTitle, yPos: spec.yPos, xTitle: spec.xTitle },
        } as any,
        scales: {
          x: {
            type: 'linear',
            position: 'bottom',
            min: xRange[0],
            max: xRange[1],
            grid: { display: false, drawTicks: false },
            border: { display: false },
            ticks: { autoSkip: false, maxRotation: 0, minRotation: 0, padding: 5, color: '#000', font: tickFont },
            afterBuildTicks: (s: any) => {
              s.ticks = xTicks.map((v) => ({ value: v }));
            },
            afterFit: (s: any) => {
              s.height = X_AXIS_H;
            },
          },
          y: {
            type: 'linear',
            position: spec.yPos,
            min: spec.yRange[0],
            max: spec.yRange[1],
            grid: { display: false, drawTicks: false },
            border: { display: false },
            ticks: { autoSkip: false, padding: 5, color: '#000', font: tickFont },
            afterBuildTicks: (s: any) => {
              s.ticks = spec.yTicks.map((v) => ({ value: v }));
            },
            afterFit: (s: any) => {
              s.width = Y_AXIS_W;
            },
          },
        },
      } as any,
      plugins: [decoPlugin],
    });
    return () => chart.destroy();
  }, [spec]);
  return (
    <canvas
      ref={ref}
      width={spec.canvas.width}
      height={spec.canvas.height}
      style={{
        position: 'absolute',
        left: spec.canvas.left,
        top: spec.canvas.top,
        width: spec.canvas.width,
        height: spec.canvas.height,
      }}
    />
  );
}

export default function App() {
  return (
    <div
      style={{
        position: 'fixed',
        left: 0,
        top: 0,
        width: 816,
        height: 659,
        background: '#fff',
        overflow: 'hidden',
      }}
    >
      <div
        style={{
          position: 'absolute',
          left: 0,
          top: -2,
          width: 831,
          textAlign: 'center',
          font: `bold 42px ${FONT}`,
          lineHeight: '42px',
          color: '#000',
          whiteSpace: 'nowrap',
        }}
      >
        {chartTitle}
      </div>
      {panels.map((p, i) => (
        <Panel key={i} spec={p} />
      ))}
    </div>
  );
}
